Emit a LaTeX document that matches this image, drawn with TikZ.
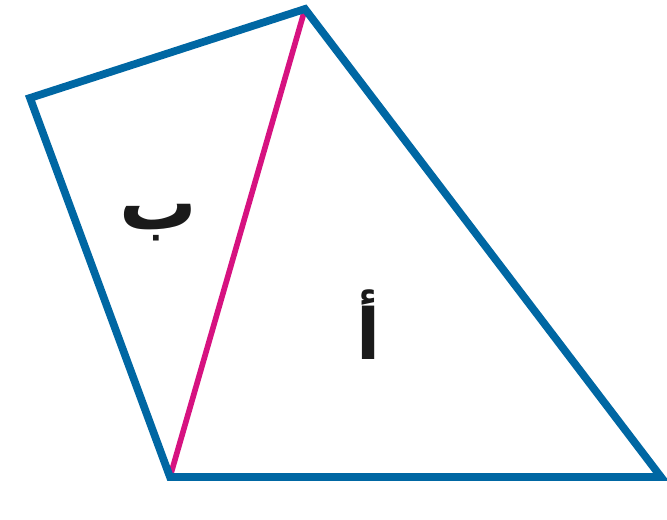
\documentclass[tikz,border=0pt]{standalone}
\usepackage{fontspec}
\newfontfamily\arabicfont[Script=Arabic]{DejaVu Sans}
\TeXXeTstate=1
\usetikzlibrary{positioning, calc}
\definecolor{EdgeBlue}{RGB}{0,103,163}
\definecolor{DiagPink}{RGB}{214,18,128}
\definecolor{LabelInk}{RGB}{26,26,26}

\begin{document}
\begin{tikzpicture}

\tikzset{
edge/.style={
draw=EdgeBlue,
line width=4.4pt,
line join=miter
},
diag/.style={
draw=DiagPink,
line width=3.2pt
},
region/.style={
text=LabelInk,
font=\arabicfont\bfseries\fontsize{40}{44}\selectfont,
inner sep=0pt
}
}

\useasboundingbox (0,0) rectangle (13.34,10.4);

\coordinate (left) at (0.6,8.44);
\coordinate (top) at (6.1,10.22);
\coordinate (foot) at (3.4,0.86);
\coordinate (right) at (13.22,0.86);

\draw[diag] (top) -- (foot);
\draw[edge] (left) -- (top) -- (right) -- (foot) -- cycle;

\node[region, font=\arabicfont\bfseries\fontsize{44}{48}\selectfont] (b) at (3.16,5.95) {\beginR ب\endR};
\node[region] (a) at (7.38,3.9) {\beginR أ\endR};

\end{tikzpicture}
\end{document}
